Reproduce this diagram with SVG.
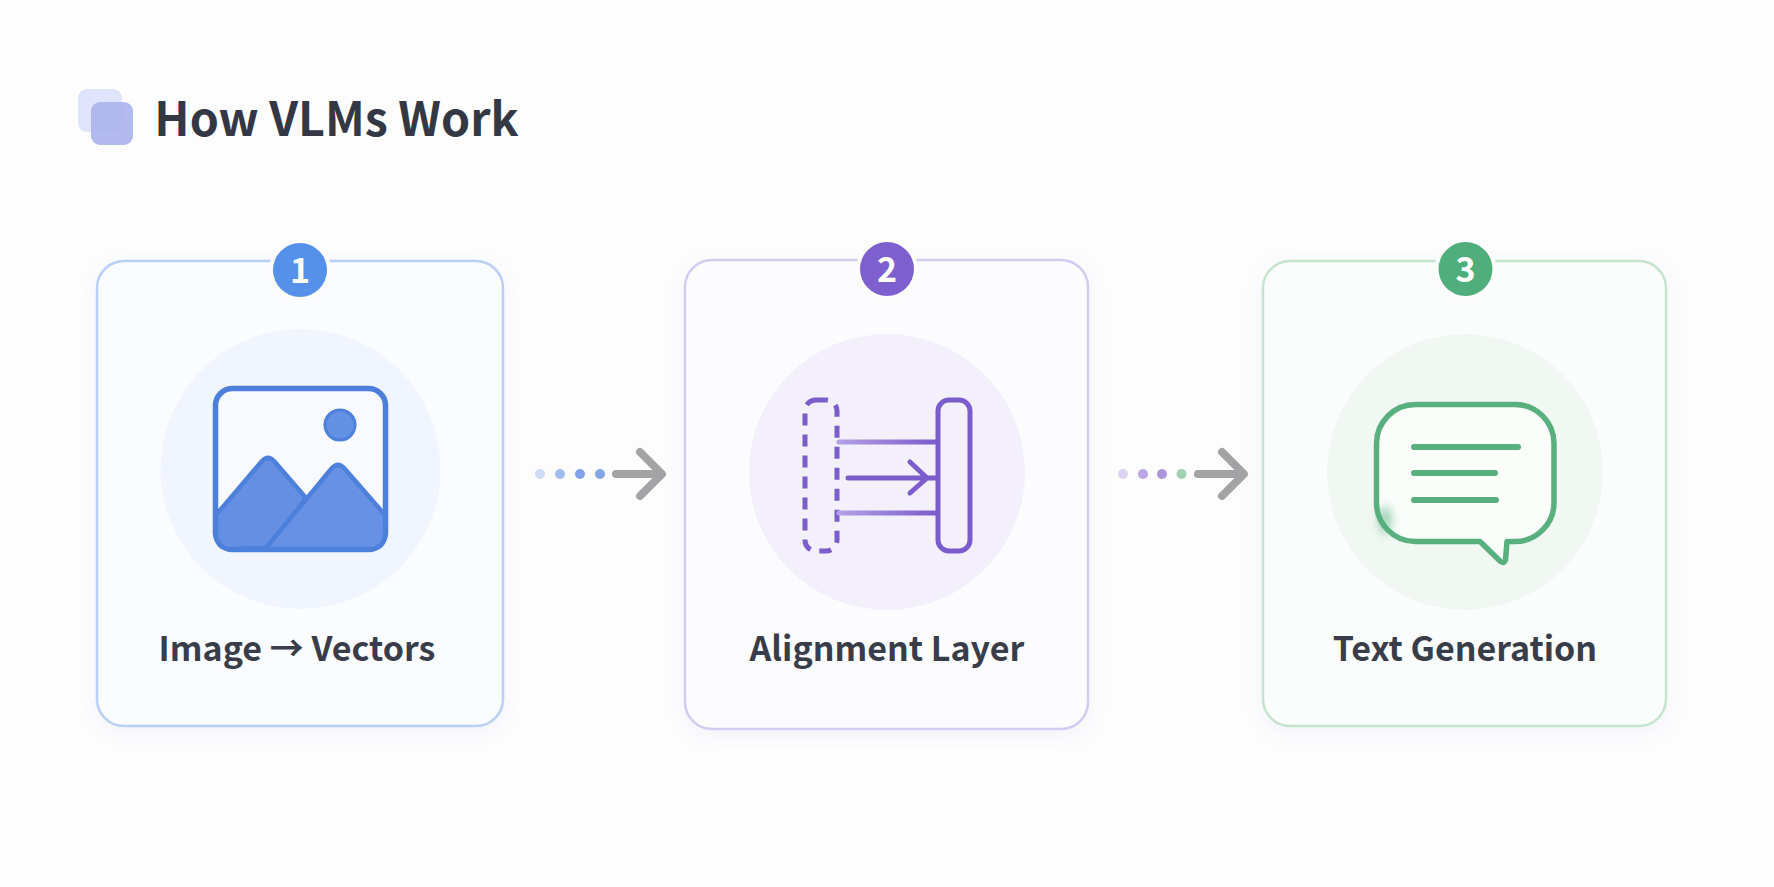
<svg xmlns="http://www.w3.org/2000/svg" width="1774" height="887" viewBox="0 0 1774 887">
<defs>
<style>
text{font-family:"Noto Sans CJK SC","Noto Sans CJK JP","Noto Sans",sans-serif;text-anchor:middle}
.title{font-size:46.6px;font-weight:700;fill:#333844}
.label{font-size:34px;font-weight:700;fill:#383d49}
.num{font-size:34px;font-weight:700;fill:#fff}
.card{stroke-width:2.5;filter:url(#shadow)}
.ring{fill:#fdfdfe}
.arrow{fill:none;stroke:#a3a3a5;stroke-width:8;stroke-linecap:round;stroke-linejoin:round}
.p{fill:none;stroke:#7a5ccb;stroke-width:5;stroke-linecap:round;stroke-linejoin:round}
.g{fill:none;stroke:#58b07f;stroke-linecap:round;stroke-linejoin:round}
</style>
<filter id="shadow" x="-15%" y="-15%" width="130%" height="130%"><feDropShadow dx="0" dy="5" stdDeviation="9" flood-color="#5a6a9a" flood-opacity="0.07"/></filter>
<filter id="blur" x="-100%" y="-100%" width="300%" height="300%"><feGaussianBlur stdDeviation="5"/></filter>
<linearGradient id="fade" gradientUnits="userSpaceOnUse" x1="839" y1="0" x2="936" y2="0"><stop offset="0" stop-color="#b3a0e4"/><stop offset="1" stop-color="#7a5ccb"/></linearGradient>
</defs>
<rect width="1774" height="887" fill="#fdfdfe"/>

<g id="header">
<rect x="78" y="89" width="44" height="43" rx="9" fill="#dfe3fb"/>
<rect x="91" y="102" width="42" height="43" rx="9" fill="#abb3ee" fill-opacity="0.9"/>
<text class="title" x="336.500" y="136">How VLMs Work</text>
</g>

<g id="node-1">
<rect class="card" x="97" y="261" width="406" height="465" rx="27" fill="#fbfcff" stroke="#b8d0f6"/>
<circle cx="300.5" cy="469" r="140" fill="#f0f5fe"/>
<rect x="215.500" y="388.500" width="170" height="161" rx="17" fill="#f8faff" stroke="#4c80db" stroke-width="5.500"/>
<circle cx="340" cy="425" r="15" fill="#6391e4" stroke="#4c80db" stroke-width="3"/>
<path d="M216 515 L262 461 Q268 455 274 461 L306 498 L268 548 L232 549 Q216 549 216 533 Z" fill="#648fe3" stroke="#4c80db" stroke-width="4.500" stroke-linejoin="round"/>
<path d="M265 549 L332 468 Q338 462 344 468 L385 515 L385 533 Q385 549 369 549 Z" fill="#6791e4" stroke="#4c80db" stroke-width="4.500" stroke-linejoin="round"/>
<circle class="ring" cx="300" cy="270" r="31"/>
<circle cx="300" cy="270" r="27" fill="#5590ea"/>
<text class="num" x="300" y="283">1</text>
<text class="label" x="297" y="661">Image → Vectors</text>
</g>

<g id="node-2">
<rect class="card" x="685" y="260" width="403" height="469" rx="27" fill="#fcfcff" stroke="#d4caf2"/>
<circle cx="887" cy="472" r="138" fill="#f3effb"/>
<rect x="805" y="400" width="32" height="151" rx="11" class="p" style="stroke-dasharray:12 9;stroke-linecap:butt"/>
<rect x="938" y="400" width="32" height="151" rx="11" class="p"/>
<path class="p" style="stroke:url(#fade)" d="M839 442H936M839 513H936"/>
<path class="p" d="M848 478H935M910 462L927 478L910 493"/>
<circle class="ring" cx="887" cy="269" r="31"/>
<circle cx="887" cy="269" r="27" fill="#7e5fcf"/>
<text class="num" x="887" y="282">2</text>
<text class="label" x="887" y="661">Alignment Layer</text>
</g>

<g id="node-3">
<rect class="card" x="1263" y="261" width="403" height="465" rx="27" fill="#fafdfb" stroke="#c6e3cf"/>
<circle cx="1465" cy="472" r="138" fill="#f1f7f2"/>
<path class="g" stroke-width="5.500" style="fill:#fbfdfb" d="M1416 404.500H1515A39 39 0 0 1 1554 443.500V502A39 39 0 0 1 1515 541.500H1507L1505.500 560Q1503 565 1499 560L1480 541.500H1416A39 39 0 0 1 1376.500 502V443.500A39 39 0 0 1 1416 404.500Z"/>
<ellipse cx="1385" cy="520" rx="7" ry="14" fill="#58b07f" fill-opacity="0.55" filter="url(#blur)"/>
<path class="g" stroke-width="6" d="M1414 447H1518M1414 473H1495M1414 500H1496"/>
<circle class="ring" cx="1465.500" cy="269" r="31"/>
<circle cx="1465.500" cy="269" r="27" fill="#4fae7b"/>
<text class="num" x="1465.500" y="282">3</text>
<text class="label" x="1465" y="661">Text Generation</text>
</g>

<g id="connectors">
<g id="connector-1-2">
<circle cx="540" cy="474" r="5" fill="#cfdcf8"/><circle cx="560" cy="474" r="5" fill="#a3bcf0"/><circle cx="580" cy="474" r="5" fill="#82a1e8"/><circle cx="600" cy="474" r="5" fill="#85a5e6"/>
<path class="arrow" d="M616 474H660M640 452L662 474L640 496"/>
</g>
<g id="connector-2-3">
<circle cx="1123" cy="474" r="5" fill="#dcd2f4"/><circle cx="1143" cy="474" r="5" fill="#bba6e6"/><circle cx="1162" cy="474" r="5" fill="#ac96da"/><circle cx="1181.500" cy="474" r="5" fill="#a0d2b2"/>
<path class="arrow" d="M1198 474H1242M1222 452L1244 474L1222 496"/>
</g>
</g>
</svg>
